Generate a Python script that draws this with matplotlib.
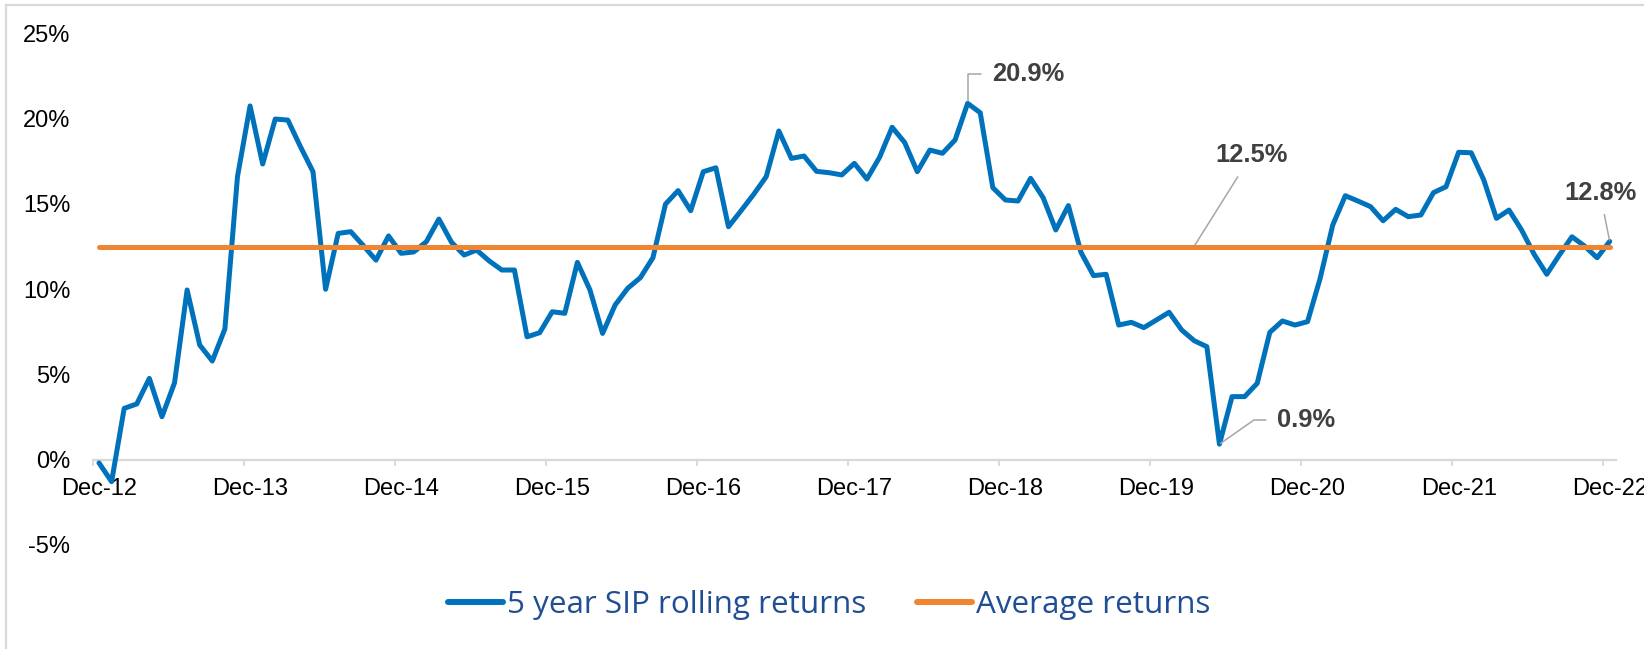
import matplotlib
matplotlib.use('Agg')
import matplotlib.pyplot as plt
import numpy as np
import pandas as pd
from matplotlib.lines import Line2D
from matplotlib.font_manager import FontProperties

# ---------------- data ----------------
months = pd.date_range('2012-12-01', '2022-12-01', freq='MS')
returns = [
    -0.2, -1.3, 3.0, 3.26, 4.76, 2.51, 4.5, 9.95, 6.72, 5.78, 7.66, 16.6,
    20.75, 17.34, 19.98, 19.92, 18.36, 16.89, 9.99, 13.27, 13.37, 12.55, 11.7, 13.12,
    12.1, 12.18, 12.78, 14.11, 12.75, 12.0, 12.29, 11.65, 11.12, 11.12, 7.2, 7.44,
    8.67, 8.58, 11.57, 9.95, 7.4, 9.07, 10.05, 10.67, 11.84, 14.99, 15.78, 14.6,
    16.89, 17.12, 13.66, 14.6, 15.56, 16.6, 19.28, 17.67, 17.81, 16.91, 16.83, 16.7,
    17.38, 16.46, 17.73, 19.5, 18.6, 16.89, 18.16, 17.97, 18.75, 20.9, 20.35, 15.95,
    15.23, 15.17, 16.5, 15.36, 13.47, 14.9, 12.16, 10.79, 10.87, 7.89, 8.05, 7.74,
    8.19, 8.64, 7.6, 6.97, 6.62, 0.9, 3.69, 3.69, 4.47, 7.46, 8.13, 7.89,
    8.09, 10.63, 13.76, 15.48, 15.17, 14.84, 14.01, 14.68, 14.25, 14.35, 15.66, 16.01,
    18.03, 18.0, 16.4, 14.15, 14.64, 13.47, 12.04, 10.87, 12.0, 13.07, 12.53, 11.84,
    12.8,
]
average_return = 12.5
tick_labels = ['Dec-12', 'Dec-13', 'Dec-14', 'Dec-15', 'Dec-16', 'Dec-17',
               'Dec-18', 'Dec-19', 'Dec-20', 'Dec-21', 'Dec-22']
y_ticks = [-5, 0, 5, 10, 15, 20, 25]
series_names = ['5 year SIP rolling returns', 'Average returns']

# annotations: (data index or None, label)
ann_max = (69, '20.9%')
ann_min = (89, '0.9%')
ann_last = (120, '12.8%')
ann_avg_label = '12.5%'

# ---------------- style ----------------
BLUE = '#0072BC'
ORANGE = '#EF8530'
GRID = '#D9D9D9'
ANN = '#404040'
LEAD = '#A6A6A6'
LEG_TXT = '#1F4E94'

plt.rcParams['font.family'] = ['Liberation Sans', 'DejaVu Sans']

W, H = 1644, 649
fig = plt.figure(figsize=(W / 100, H / 100), dpi=100)
x0, x1 = 92.7, 1616.0
ytop, ybot = 33.5, 544.7
ax = fig.add_axes([x0 / W, (H - ybot) / H, (x1 - x0) / W, (ybot - ytop) / H])

n = len(returns)
x = np.arange(n) + 0.5
ax.plot(x, returns, color=BLUE, lw=3.6, solid_joinstyle='round',
        solid_capstyle='round', zorder=3)
ax.plot(x, [average_return] * n, color=ORANGE, lw=3.6,
        solid_capstyle='round', zorder=4)

ax.set_xlim(0, n)
ax.set_ylim(-5, 25)

for s in ['top', 'right', 'left']:
    ax.spines[s].set_visible(False)
ax.spines['bottom'].set_position(('data', 0))
ax.spines['bottom'].set_color(GRID)
ax.spines['bottom'].set_linewidth(1.6)

tick_pos = np.arange(0, n, 12)
ax.set_xticks(tick_pos)
ax.set_xticklabels([''] * len(tick_pos))
ax.tick_params(axis='x', which='major', length=4.5, width=1.4, color=GRID, direction='out')
ax.set_xticks(tick_pos + 0.5, minor=True)
ax.set_xticklabels(tick_labels, minor=True)
ax.tick_params(axis='x', which='minor', length=0, pad=13, labelsize=17, labelcolor='black')

ax.set_yticks(y_ticks)
ax.set_yticklabels([f'{v}%' for v in y_ticks])
ax.tick_params(axis='y', length=0, pad=16, labelsize=17, labelcolor='black')

# ---------------- annotations ----------------
afont = dict(fontsize=18.4, fontweight='bold', color=ANN)

def px2data(px, py):
    return ((px - x0) / (x1 - x0) * n, 25 - (py - ytop) / (ybot - ytop) * 30)

i, lab = ann_max
ax.annotate(lab, xy=(x[i], returns[i]), xytext=px2data(992, 74),
            ha='left', va='center', annotation_clip=False,
            arrowprops=dict(arrowstyle='-', color=LEAD, lw=1.1,
                            connectionstyle='angle,angleA=0,angleB=90,rad=0',
                            shrinkA=6, shrinkB=2), **afont)

i, lab = ann_min
ax.annotate(lab, xy=(x[i], returns[i]), xytext=px2data(1277, 420),
            ha='left', va='center', annotation_clip=False,
            arrowprops=dict(arrowstyle='-', color=LEAD, lw=1.1,
                            connectionstyle='angle,angleA=0,angleB=35,rad=0',
                            shrinkA=6, shrinkB=1), **afont)

i, lab = ann_last
ax.annotate(lab, xy=(x[i], returns[i]), xytext=px2data(1600, 193),
            ha='center', va='center', annotation_clip=False,
            arrowprops=dict(arrowstyle='-', color=LEAD, lw=1.1,
                            shrinkA=5, shrinkB=1), **afont)

avg_x = px2data(1194, 247)[0]
ax.annotate(ann_avg_label, xy=(avg_x, average_return), xytext=px2data(1251.5, 155),
            ha='center', va='center', annotation_clip=False,
            arrowprops=dict(arrowstyle='-', color=LEAD, lw=1.1,
                            shrinkA=6, shrinkB=0), **afont)

# ---------------- legend ----------------
handles = [Line2D([], [], color=BLUE, lw=4.3, solid_capstyle='round'),
           Line2D([], [], color=ORANGE, lw=4.3, solid_capstyle='round')]
leg = ax.legend(handles, series_names, loc='center',
                bbox_to_anchor=(829.5 / W, 44 / H), bbox_transform=fig.transFigure,
                ncol=2, frameon=False,
                prop=FontProperties(family='Open Sans', size=22.6),
                labelcolor=LEG_TXT, handlelength=1.75, handletextpad=0.13,
                columnspacing=1.62, borderpad=0)

# ---------------- chart border ----------------
fig.add_artist(Line2D([6 / W, 1], [1 - 5 / H, 1 - 5 / H], transform=fig.transFigure,
                      color=GRID, lw=1.6))
fig.add_artist(Line2D([6 / W, 6 / W], [0, 1 - 5 / H], transform=fig.transFigure,
                      color=GRID, lw=1.6))

fig.savefig('out.png', dpi=100, facecolor='white')
